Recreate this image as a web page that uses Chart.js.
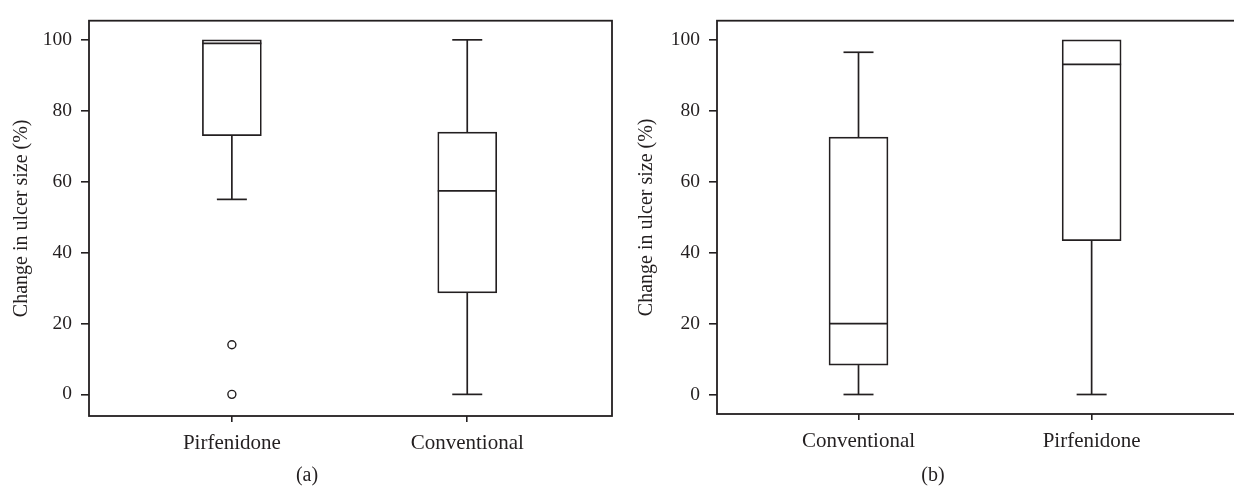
<!DOCTYPE html>
<html>
<head>
<meta charset="utf-8">
<script src="https://cdn.jsdelivr.net/npm/chart.js@4.4.1/dist/chart.umd.min.js"></script>
<style>
  html, body { margin: 0; padding: 0; background: #fff; overflow: hidden; width: 1234px; height: 492px; position: relative; }
  canvas { position: absolute; top: 0; }
  #chartA { left: 0; }
  #chartB { left: 620px; }
  .panel-tag { position: absolute; top: 463px; line-height: 24px; font: 20px "Liberation Serif", serif; color: #231f20; transform: translateX(-50%); }
</style>
</head>
<body>
<canvas id="chartA" width="620" height="492"></canvas>
<canvas id="chartB" width="620" height="492"></canvas>
<div class="panel-tag" style="left:307px">(a)</div>
<div class="panel-tag" style="left:933px">(b)</div>
<script>
/* Two box plots: change in ulcer size, panels (a) and (b). */
const Y_TICKS = [0, 20, 40, 60, 80, 100];
const Y_TITLE = "Change in ulcer size (%)";

// panel (a)
const A_GROUPS = ["Pirfenidone", "Conventional"];
const A_MIN = [55, 0];
const A_Q1 = [73, 28.6];
const A_MED = [99, 57.4];
const A_Q3 = [100, 74];
const A_MAX = [100, 100];
const A_OUT_GROUP = [0, 0];
const A_OUT_VAL = [14, 0];

// panel (b)
const B_GROUPS = ["Conventional", "Pirfenidone"];
const B_MIN = [0, 0];
const B_Q1 = [8.3, 43.4];
const B_MED = [20, 93.1];
const B_Q3 = [72.6, 100];
const B_MAX = [96.5, 100];
const B_OUT_GROUP = [];
const B_OUT_VAL = [];

const INK = "#231f20";
const SERIF = "'Liberation Serif', 'Times New Roman', serif";
const LW = 1.7;

/* ---------- plugins ---------- */
const frame = {
  id: "frame",
  afterDatasetsDraw(chart) {
    const { ctx, chartArea: a } = chart;
    ctx.save();
    ctx.strokeStyle = INK;
    ctx.lineWidth = 1.8;
    ctx.strokeRect(a.left, a.top, a.right - a.left, a.bottom - a.top);
    ctx.restore();
  },
};

const whiskers = {
  id: "whiskers",
  afterDatasetsDraw(chart, args, o) {
    const { ctx, scales: { x, y } } = chart;
    const bars = chart.getDatasetMeta(0).data;
    const seg = (x1, y1, x2, y2) => { ctx.beginPath(); ctx.moveTo(x1, y1); ctx.lineTo(x2, y2); ctx.stroke(); };
    ctx.save();
    ctx.strokeStyle = INK;
    ctx.lineWidth = LW;
    o.q1.forEach((_, i) => {
      const cx = x.getPixelForValue(i + 1);
      const half = bars[i].width / 2;
      const cap = 15;
      if (o.max[i] > o.q3[i]) {
        const yt = y.getPixelForValue(o.max[i]);
        seg(cx, y.getPixelForValue(o.q3[i]), cx, yt);
        seg(cx - cap, yt, cx + cap, yt);
      }
      if (o.min[i] < o.q1[i]) {
        const yb = y.getPixelForValue(o.min[i]);
        seg(cx, y.getPixelForValue(o.q1[i]), cx, yb);
        seg(cx - cap, yb, cx + cap, yb);
      }
      const ym = y.getPixelForValue(o.med[i]);
      seg(cx - half, ym, cx + half, ym);
    });
    ctx.restore();
  },
};

/* ---------- chart factory ---------- */
function makePanel(id, p) {
  const boxes = p.groups.map((g, i) => ({ x: i + 1, y: [p.q1[i], p.q3[i]] }));
  const outs = p.outGroup.map((g, i) => ({ x: g + 1, y: p.outVal[i] }));
  return new Chart(document.getElementById(id).getContext("2d"), {
    type: "bar",
    data: {
      datasets: [
        {
          data: boxes, backgroundColor: "#fff", borderColor: INK, borderWidth: LW,
          borderSkipped: false, barThickness: 59,
        },
        {
          type: "scatter", data: outs, pointRadius: 4, pointBackgroundColor: "#fff",
          pointBorderColor: INK, pointBorderWidth: 1.4,
        },
      ],
    },
    options: {
      responsive: false, animation: false, devicePixelRatio: 1,
      layout: { padding: { top: p.top, right: p.right, left: 0, bottom: 0 } },
      plugins: {
        legend: { display: false }, tooltip: { enabled: false },
        whiskers: { q1: p.q1, q3: p.q3, med: p.med, min: p.min, max: p.max },
      },
      scales: {
        x: {
          type: "linear", min: 0.393, max: 2.615, offset: false,
          afterBuildTicks: (s) => { s.ticks = p.groups.map((g, i) => ({ value: i + 1 })); },
          afterFit: (s) => { s.height = p.xh; },
          ticks: {
            callback: (v) => p.groups[v - 1], color: INK, padding: 9,
            font: { family: SERIF, size: 21 }, maxRotation: 0, autoSkip: false,
          },
          grid: { offset: false, drawOnChartArea: false, drawTicks: true, tickLength: 6, color: INK, lineWidth: 1.6 },
          border: { display: false },
        },
        y: {
          min: p.ymin, max: p.ymax,
          afterBuildTicks: (s) => { s.ticks = Y_TICKS.map((v) => ({ value: v })); },
          afterFit: (s) => { s.width = p.yw; },
          ticks: { color: INK, padding: 9, font: { family: SERIF, size: 19.5 } },
          grid: { drawOnChartArea: false, drawTicks: true, tickLength: 8, color: INK, lineWidth: 1.6 },
          border: { display: false },
          title: {
            display: true, text: Y_TITLE, color: INK, font: { family: SERIF, size: 20 },
            padding: { top: p.titlePad, bottom: 0 },
          },
        },
      },
    },
    plugins: [whiskers, frame],
  });
}

makePanel("chartA", {
  groups: A_GROUPS, min: A_MIN, q1: A_Q1, med: A_MED, q3: A_Q3, max: A_MAX,
  outGroup: A_OUT_GROUP, outVal: A_OUT_VAL,
  ymin: -6.1, ymax: 105.4, top: 7, right: 8, yw: 89, xh: 76, titlePad: 9.5,
});

makePanel("chartB", {
  groups: B_GROUPS, min: B_MIN, q1: B_Q1, med: B_MED, q3: B_Q3, max: B_MAX,
  outGroup: B_OUT_GROUP, outVal: B_OUT_VAL,
  ymin: -5.5, ymax: 105.4, top: 6, right: 5, yw: 97, xh: 78, titlePad: 15,
});
</script>
</body>
</html>
